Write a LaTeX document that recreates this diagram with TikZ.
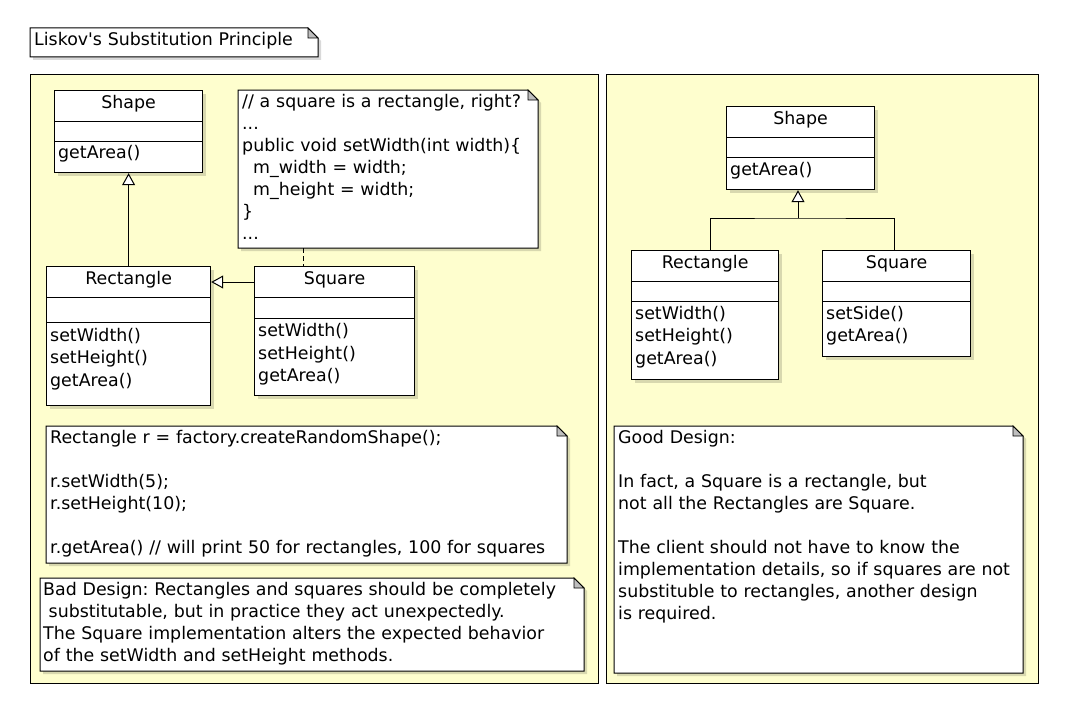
\documentclass[tikz,border=0pt]{standalone}
\usepackage{fontspec}
\setmainfont{DejaVu Sans}
\frenchspacing
\usetikzlibrary{arrows.meta,calc,shadows}
\definecolor{pkgfill}{RGB}{254,254,206}
\definecolor{foldgray}{RGB}{190,190,190}
\tikzstyle{pkg} = [draw=black, fill=pkgfill, line width=1pt]
\tikzstyle{cls} = [draw=black, fill=white, line width=1.2pt, anchor=north west, inner sep=0pt,
  drop shadow={shadow xshift=3pt, shadow yshift=-3pt, fill=black, opacity=0.15}]
\tikzstyle{bar} = [draw=black, line width=1pt]
\tikzstyle{ttl} = [anchor=base, inner sep=0pt]
\tikzstyle{txt} = [anchor=base west, inner sep=0pt, align=left, text width=560pt]
\tikzstyle{mth} = [txt, font=\fontsize{17.4}{22.5}\selectfont]
\tikzstyle{slot} = [anchor=north west, inner sep=0pt, outer sep=0pt]
\tikzstyle{note} = [draw=black, fill=white, line width=1pt]
\tikzstyle{fold} = [draw=black, fill=foldgray, line width=0.8pt]
\tikzstyle{notesh} = [fill=black, opacity=0.15]
\tikzstyle{inh} = [line width=1pt, -{Triangle[fill=white, length=12pt, width=13pt]}]
\tikzstyle{link} = [line width=1pt]
\newcommand{\drawnote}[1]{%
  \fill[notesh] ($(#1.north west)+(3,3)$) -- ($(#1.north east)+(-7,3)$) -- ($(#1.north east)+(3,13)$)
    -- ($(#1.south east)+(3,3)$) -- ($(#1.south west)+(3,3)$) -- cycle;
  \draw[note] (#1.north west) -- ($(#1.north east)+(-10,0)$) -- ($(#1.north east)+(0,10)$)
    -- (#1.south east) -- (#1.south west) -- cycle;
  \draw[fold] ($(#1.north east)+(-10,0)$) -- ($(#1.north east)+(-10,10)$) -- ($(#1.north east)+(0,10)$) -- cycle;}

\begin{document}
\begin{tikzpicture}[x=1pt, y=-1pt, font=\fontsize{17.4}{22}\selectfont]
  \useasboundingbox (0,0) rectangle (1073,717);
  \fill[white] (0,0) rectangle (1073,717);

  % title
  \node[slot, minimum width=288pt, minimum height=29pt] (title) at (30,28) {};
  \drawnote{title}
  \node[txt] at (34,46) {Liskov\textquotesingle s Substitution Principle};

  % frames
  \draw[pkg] (30,74) rectangle (598,683);
  \draw[pkg] (606,74) rectangle (1038,683);

  % bad design
  \node[cls, minimum width=148pt, minimum height=82pt] (shapeL) at (54,90) {};
  \draw[bar] (shapeL.west |- 0,121) -- (shapeL.east |- 0,121);
  \draw[bar] (shapeL.west |- 0,141) -- (shapeL.east |- 0,141);
  \node[ttl] at (shapeL.north |- 0,108) {Shape};
  \node[mth] at (58,158.5) {getArea()};

  \node[cls, minimum width=164pt, minimum height=139pt] (rectL) at (46,266) {};
  \draw[bar] (rectL.west |- 0,297) -- (rectL.east |- 0,297);
  \draw[bar] (rectL.west |- 0,322) -- (rectL.east |- 0,322);
  \node[ttl] at (rectL.north |- 0,284) {Rectangle};
  \node[mth] at (50,341) {setWidth()\\setHeight()\\getArea()};

  \node[cls, minimum width=160pt, minimum height=129pt] (sqL) at (254,266) {};
  \draw[bar] (sqL.west |- 0,297) -- (sqL.east |- 0,297);
  \draw[bar] (sqL.west |- 0,318) -- (sqL.east |- 0,318);
  \node[ttl] at (sqL.north |- 0,284) {Square};
  \node[mth] at (258,336.5) {setWidth()\\setHeight()\\getArea()};

  \node[slot, minimum width=300pt, minimum height=158pt] (codeA) at (238,90) {};
  \drawnote{codeA}
  \node[txt] at (242,107) {// a square is a rectangle, right?\\...\\public void setWidth(int width)\{\\
    \hspace*{11pt}m\_width = width;\\\hspace*{11pt}m\_height = width;\\\}\\...};

  \node[slot, minimum width=521pt, minimum height=137pt] (codeB) at (46,426) {};
  \drawnote{codeB}
  \node[txt] at (50,443) {Rectangle r = factory.createRandomShape();\\\mbox{}\\r.setWidth(5);\\r.setHeight(10);\\
    \mbox{}\\r.getArea() // will print 50 for rectangles, 100 for squares};

  \node[slot, minimum width=544pt, minimum height=93pt] (bad) at (40,578) {};
  \drawnote{bad}
  \node[txt] at (43,595) {Bad Design: Rectangles and squares should be completely\\
    \hspace*{5.5pt}substitutable, but in practice they act unexpectedly.\\
    The Square implementation alters the expected behavior\\of the setWidth and setHeight methods.};

  \draw[inh] (sqL.west |- 0,282) -- (rectL.east |- 0,282);
  \draw[inh] (rectL.north) -- (shapeL.south);
  \draw[link, dash pattern=on 5pt off 3pt] (codeA.south -| 303,0) -- (sqL.north -| 303,0);

  % good design
  \node[cls, minimum width=148pt, minimum height=83pt] (shapeR) at (726,106) {};
  \draw[bar] (shapeR.west |- 0,137) -- (shapeR.east |- 0,137);
  \draw[bar] (shapeR.west |- 0,157) -- (shapeR.east |- 0,157);
  \node[ttl] at (shapeR.north |- 0,124) {Shape};
  \node[mth] at (730,175) {getArea()};

  \node[cls, minimum width=147pt, minimum height=129pt] (rectR) at (631,250) {};
  \draw[bar] (rectR.west |- 0,281) -- (rectR.east |- 0,281);
  \draw[bar] (rectR.west |- 0,301) -- (rectR.east |- 0,301);
  \node[ttl] at (rectR.north |- 0,268) {Rectangle};
  \node[mth] at (635,319) {setWidth()\\setHeight()\\getArea()};

  \node[cls, minimum width=148pt, minimum height=106pt] (sqR) at (822,250) {};
  \draw[bar] (sqR.west |- 0,281) -- (sqR.east |- 0,281);
  \draw[bar] (sqR.west |- 0,301) -- (sqR.east |- 0,301);
  \node[ttl] at (sqR.north |- 0,268) {Square};
  \node[mth] at (826,319) {setSide()\\getArea()};

  \coordinate (joinR) at (798,218);
  \draw[link] (rectR.north -| 710,0) |- (joinR) -| (sqR.north -| 894,0);
  \draw[inh] (joinR) -- (shapeR.south -| joinR);

  \node[slot, minimum width=409pt, minimum height=247pt] (good) at (614,426) {};
  \drawnote{good}
  \node[txt] at (618,443) {Good Design:\\\mbox{}\\In fact, a Square is a rectangle, but\\not all the Rectangles are Square.\\
    \mbox{}\\The client should not have to know the\\implementation details, so if squares are not\\
    substituble to rectangles, another design\\is required.};
\end{tikzpicture}
\end{document}
